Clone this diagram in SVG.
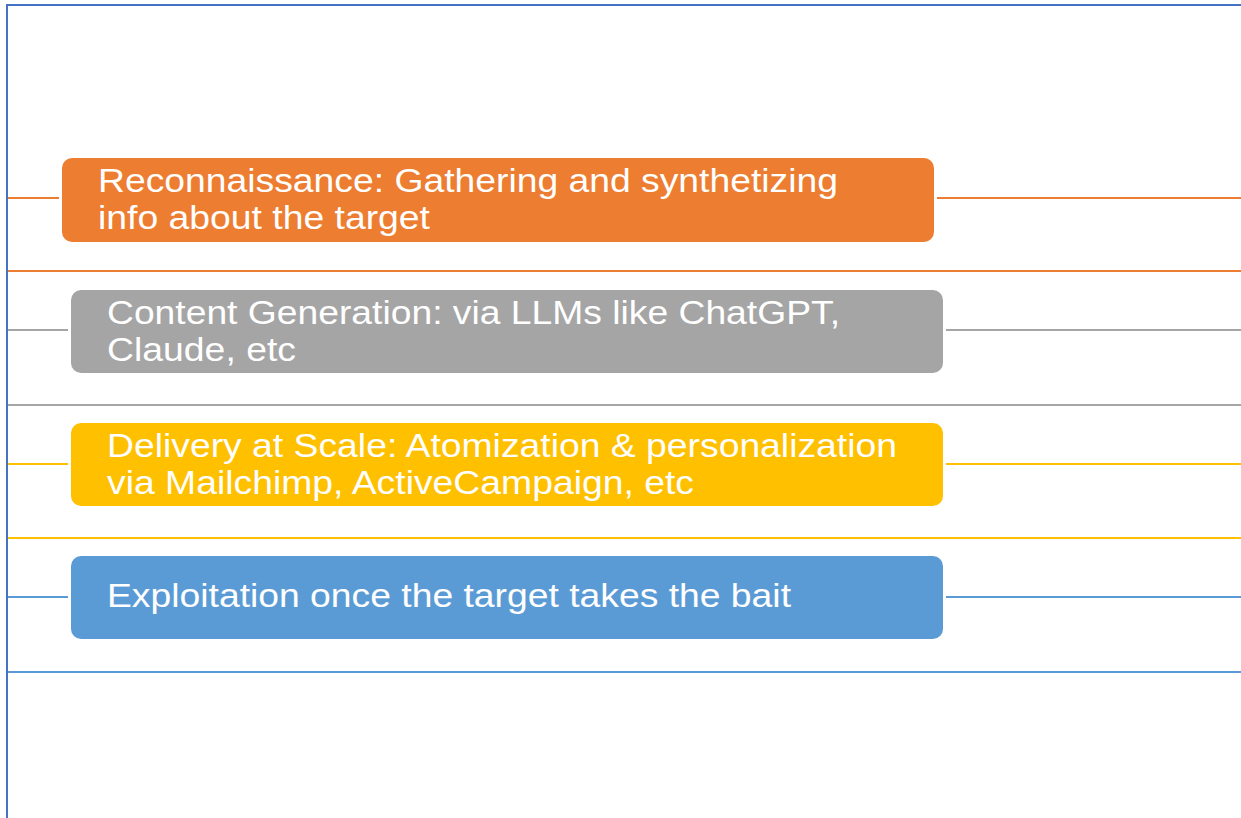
<svg xmlns="http://www.w3.org/2000/svg" width="1241" height="818" viewBox="0 0 1241 818">
<style>
.t{font-family:"Liberation Sans",Arial,sans-serif;font-size:33px;fill:#ffffff}
.c{fill:none;stroke-width:2}
</style>
<rect width="1241" height="818" fill="#ffffff"/>
<g id="connectors">
<path class="c" stroke="#4472C4" d="M7,818 V5 H1241"/>
<path class="c" stroke="#ED7D31" d="M8,198 H59 M937,198 H1241 M8,271 H1241"/>
<path class="c" stroke="#A5A5A5" d="M8,330 H68 M946,330 H1241 M8,405 H1241"/>
<path class="c" stroke="#FFC000" d="M8,464 H68 M946,464 H1241 M8,538 H1241"/>
<path class="c" stroke="#5B9BD5" d="M8,597 H68 M946,597 H1241 M8,672 H1241"/>
</g>
<g id="node1">
<rect x="62" y="158" width="872" height="84" rx="10" fill="#ED7D31"/>
<text class="t" x="98" y="192" textLength="740" lengthAdjust="spacingAndGlyphs">Reconnaissance: Gathering and synthetizing</text>
<text class="t" x="98" y="229" textLength="332" lengthAdjust="spacingAndGlyphs">info about the target</text>
</g>
<g id="node2">
<rect x="71" y="290" width="872" height="83" rx="10" fill="#A5A5A5"/>
<text class="t" x="107" y="324" textLength="733" lengthAdjust="spacingAndGlyphs">Content Generation: via LLMs like ChatGPT,</text>
<text class="t" x="107" y="361" textLength="189" lengthAdjust="spacingAndGlyphs">Claude, etc</text>
</g>
<g id="node3">
<rect x="71" y="423" width="872" height="83" rx="10" fill="#FFC000"/>
<text class="t" x="107" y="457" textLength="790" lengthAdjust="spacingAndGlyphs">Delivery at Scale: Atomization &amp; personalization</text>
<text class="t" x="107" y="494" textLength="587" lengthAdjust="spacingAndGlyphs">via Mailchimp, ActiveCampaign, etc</text>
</g>
<g id="node4">
<rect x="71" y="556" width="872" height="83" rx="10" fill="#5B9BD5"/>
<text class="t" x="107" y="607" textLength="684" lengthAdjust="spacingAndGlyphs">Exploitation once the target takes the bait</text>
</g>
</svg>
